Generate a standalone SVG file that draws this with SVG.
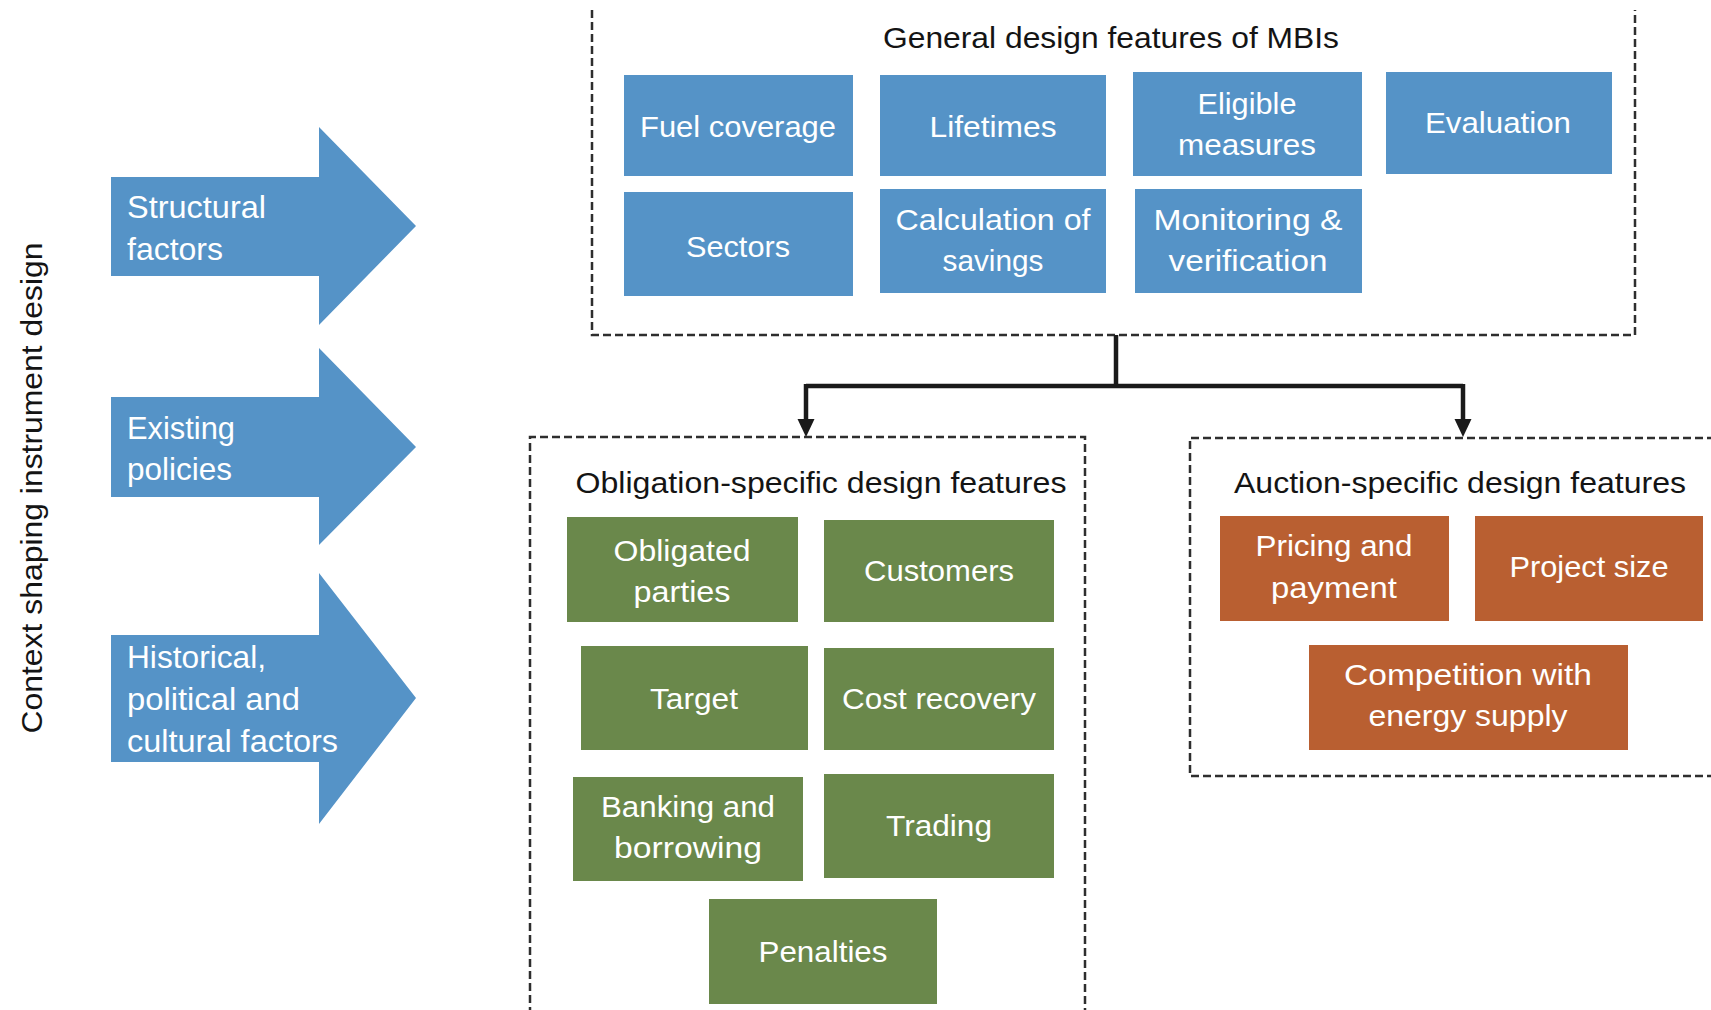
<svg xmlns="http://www.w3.org/2000/svg" width="1711" height="1010" viewBox="0 0 1711 1010">
<style>
.bg{fill:#ffffff}
.dash{fill:none;stroke:#2e2e2e;stroke-width:2.5;stroke-dasharray:8 4}
.blue{fill:#5593c7}
.green{fill:#6a884b}
.orange{fill:#b95f31}
.arrow{fill:#5593c7}
.bt{fill:#ffffff;font-family:"Liberation Sans",Arial,sans-serif;font-size:30px;text-anchor:middle}
.at{fill:#ffffff;font-family:"Liberation Sans",Arial,sans-serif;font-size:32px}
.title{fill:#141414;font-family:"Liberation Sans",Arial,sans-serif;font-size:30px;text-anchor:middle}
.conn{fill:none;stroke:#1a1a1a;stroke-width:4.5}
.head{fill:#1a1a1a}
</style>
<rect class="bg" x="0" y="0" width="1711" height="1010"/>

<g id="context-label">
<text class="title" transform="translate(42,488) rotate(-90)" textLength="491" lengthAdjust="spacingAndGlyphs">Context shaping instrument design</text>
</g>

<g id="arrow-structural">
<polygon class="arrow" points="111,177 319,177 319,127 416,226 319,325 319,276 111,276"/>
<text class="at" x="127" y="218" textLength="139" lengthAdjust="spacingAndGlyphs">Structural</text>
<text class="at" x="127" y="260" textLength="96" lengthAdjust="spacingAndGlyphs">factors</text>
</g>
<g id="arrow-existing">
<polygon class="arrow" points="111,397 319,397 319,348 416,447 319,545 319,497 111,497"/>
<text class="at" x="127" y="439" textLength="108" lengthAdjust="spacingAndGlyphs">Existing</text>
<text class="at" x="127" y="480" textLength="105" lengthAdjust="spacingAndGlyphs">policies</text>
</g>
<g id="arrow-historical">
<polygon class="arrow" points="111,635 319,635 319,573 416,698 319,824 319,762 111,762"/>
<text class="at" x="127" y="668" textLength="139" lengthAdjust="spacingAndGlyphs">Historical,</text>
<text class="at" x="127" y="710" textLength="173" lengthAdjust="spacingAndGlyphs">political and</text>
<text class="at" x="127" y="752" textLength="211" lengthAdjust="spacingAndGlyphs">cultural factors</text>
</g>

<g id="general-group">
<path class="dash" d="M592,10 V335 H1635 V10"/>
<text class="title" x="1111" y="48" font-size="28" textLength="456" lengthAdjust="spacingAndGlyphs">General design features of MBIs</text>
</g>
<g id="fuel-coverage"><rect class="blue" x="624" y="75" width="229" height="101"/><text class="bt" x="738" y="137" textLength="196" lengthAdjust="spacingAndGlyphs">Fuel coverage</text></g>
<g id="lifetimes"><rect class="blue" x="880" y="75" width="226" height="101"/><text class="bt" x="993" y="137" textLength="127" lengthAdjust="spacingAndGlyphs">Lifetimes</text></g>
<g id="eligible-measures"><rect class="blue" x="1133" y="72" width="229" height="104"/><text class="bt" x="1247" y="114" textLength="99" lengthAdjust="spacingAndGlyphs">Eligible</text><text class="bt" x="1247" y="155" textLength="138" lengthAdjust="spacingAndGlyphs">measures</text></g>
<g id="evaluation"><rect class="blue" x="1386" y="72" width="226" height="102"/><text class="bt" x="1498" y="133" textLength="146" lengthAdjust="spacingAndGlyphs">Evaluation</text></g>
<g id="sectors"><rect class="blue" x="624" y="192" width="229" height="104"/><text class="bt" x="738" y="257" textLength="104" lengthAdjust="spacingAndGlyphs">Sectors</text></g>
<g id="calculation-of-savings"><rect class="blue" x="880" y="189" width="226" height="104"/><text class="bt" x="993" y="230" textLength="195" lengthAdjust="spacingAndGlyphs">Calculation of</text><text class="bt" x="993" y="271" textLength="101" lengthAdjust="spacingAndGlyphs">savings</text></g>
<g id="monitoring-verification"><rect class="blue" x="1135" y="189" width="227" height="104"/><text class="bt" x="1248" y="230" textLength="189" lengthAdjust="spacingAndGlyphs">Monitoring &amp;</text><text class="bt" x="1248" y="271" textLength="159" lengthAdjust="spacingAndGlyphs">verification</text></g>

<g id="obligation-group">
<path class="dash" d="M530,1015 V437 H1085 V1015"/>
<text class="title" x="821" y="493" font-size="31" textLength="491" lengthAdjust="spacingAndGlyphs">Obligation-specific design features</text>
</g>
<g id="obligated-parties"><rect class="green" x="567" y="517" width="231" height="105"/><text class="bt" x="682" y="561" textLength="137" lengthAdjust="spacingAndGlyphs">Obligated</text><text class="bt" x="682" y="602" textLength="97" lengthAdjust="spacingAndGlyphs">parties</text></g>
<g id="customers"><rect class="green" x="824" y="520" width="230" height="102"/><text class="bt" x="939" y="581" textLength="150" lengthAdjust="spacingAndGlyphs">Customers</text></g>
<g id="target"><rect class="green" x="581" y="646" width="227" height="104"/><text class="bt" x="694" y="709" textLength="88" lengthAdjust="spacingAndGlyphs">Target</text></g>
<g id="cost-recovery"><rect class="green" x="824" y="648" width="230" height="102"/><text class="bt" x="939" y="709" textLength="194" lengthAdjust="spacingAndGlyphs">Cost recovery</text></g>
<g id="banking-borrowing"><rect class="green" x="573" y="777" width="230" height="104"/><text class="bt" x="688" y="817" textLength="174" lengthAdjust="spacingAndGlyphs">Banking and</text><text class="bt" x="688" y="858" textLength="148" lengthAdjust="spacingAndGlyphs">borrowing</text></g>
<g id="trading"><rect class="green" x="824" y="774" width="230" height="104"/><text class="bt" x="939" y="836" textLength="106" lengthAdjust="spacingAndGlyphs">Trading</text></g>
<g id="penalties"><rect class="green" x="709" y="899" width="228" height="105"/><text class="bt" x="823" y="962" textLength="129" lengthAdjust="spacingAndGlyphs">Penalties</text></g>

<g id="auction-group">
<path class="dash" d="M1715,438 H1190 V776 H1715"/>
<text class="title" x="1460" y="493" font-size="31" textLength="452" lengthAdjust="spacingAndGlyphs">Auction-specific design features</text>
</g>
<g id="pricing-payment"><rect class="orange" x="1220" y="516" width="229" height="105"/><text class="bt" x="1334" y="556" textLength="157" lengthAdjust="spacingAndGlyphs">Pricing and</text><text class="bt" x="1334" y="598" textLength="126" lengthAdjust="spacingAndGlyphs">payment</text></g>
<g id="project-size"><rect class="orange" x="1475" y="516" width="228" height="105"/><text class="bt" x="1589" y="577" textLength="159" lengthAdjust="spacingAndGlyphs">Project size</text></g>
<g id="competition-energy-supply"><rect class="orange" x="1309" y="645" width="319" height="105"/><text class="bt" x="1468" y="685" textLength="248" lengthAdjust="spacingAndGlyphs">Competition with</text><text class="bt" x="1468" y="726" textLength="199" lengthAdjust="spacingAndGlyphs">energy supply</text></g>

<g id="connectors">
<path class="conn" d="M1116,335 V386"/>
<path class="conn" d="M806,386 H1463"/>
<path class="conn" d="M806,384 V421"/>
<path class="conn" d="M1463,384 V421"/>
<polygon class="head" points="797.5,419 814.5,419 806,437"/>
<polygon class="head" points="1454.5,419 1471.5,419 1463,437"/>
</g>
</svg>
